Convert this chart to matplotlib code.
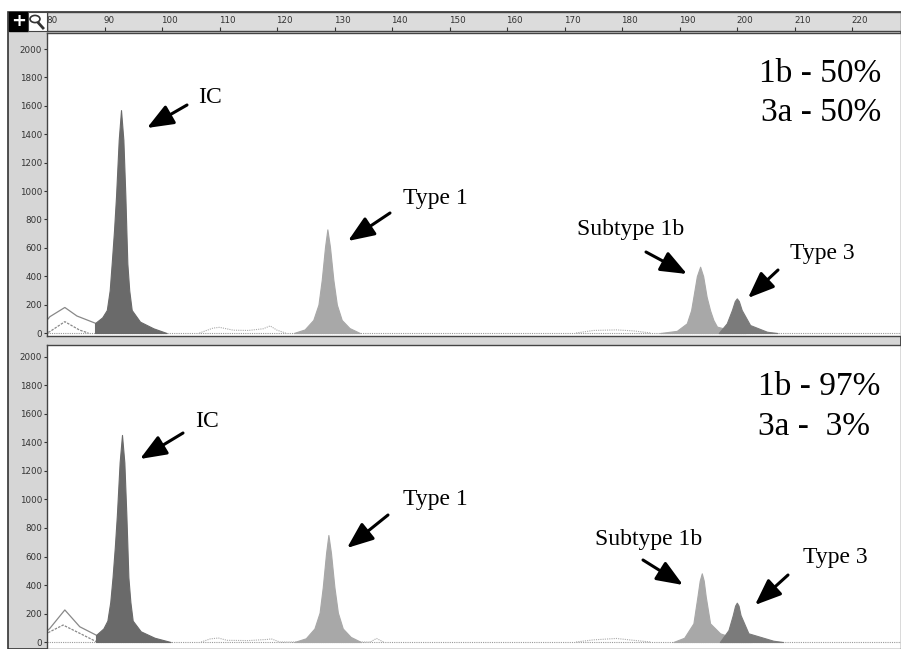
import matplotlib
matplotlib.use("Agg")
import matplotlib.pyplot as plt
from matplotlib.patches import Rectangle, Circle, FancyArrowPatch
from matplotlib.lines import Line2D

W, H = 901, 649

# ====================== data ======================
ruler_ticks = list(range(80, 221, 10))
y_ticks = list(range(0, 2001, 200))

# panel 1 (1b 50% / 3a 50%)
ic1_x = [88.35, 88.35, 89.6, 90.4, 90.9, 91.25, 91.65, 92.0, 92.47, 92.87, 93.28, 93.63, 93.8, 93.97, 94.3, 94.73, 96.17, 98.5, 100.8]
ic1_y = [0, 70, 110, 162, 300, 490, 720, 960, 1360, 1570, 1360, 960, 720, 490, 300, 162, 80, 33, 0]
t1a_x = [122.9, 124.8, 126.3, 127.2, 127.77, 128.35, 128.75, 129.2, 129.8, 130.4, 131.25, 132.6, 134.4]
t1a_y = [0, 25, 92, 200, 373, 608, 730, 608, 373, 200, 92, 35, 0]
s1a_x = [186.6, 189.5, 191.25, 192.0, 192.4, 193.0, 193.57, 194.1, 194.7, 195.3, 195.88, 196.5, 198.8, 201.5]
s1a_y = [0, 15, 68, 160, 255, 400, 467, 400, 255, 160, 91, 45, 21, 0]
t3a_x = [196.8, 198.2, 199.1, 199.6, 199.95, 200.3, 200.8, 202.26, 205.2, 207.0]
t3a_y = [0, 68, 162, 225, 244, 225, 162, 56, 9, 0]
up1_x = [80.2, 80.5, 83.1, 85.2, 88.35]
up1_y = [100, 115, 180, 120, 70]
lo1_x = [80.2, 80.5, 83.1, 85.7, 87.2]
lo1_y = [5, 10, 80, 20, 0]
bump1_x = [106.5, 108.9, 110.0, 112.4, 115, 117.6, 118.8, 120, 121.5]
bump1_y = [0, 35, 40, 20, 18, 30, 50, 20, 0]
far1_x = [172, 175, 179, 182, 185]
far1_y = [0, 18, 22, 15, 0]

# panel 2 (1b 97% / 3a 3%)
ic2_x = [88.52, 88.52, 89.8, 90.5, 91.0, 91.4, 91.8, 92.15, 92.63, 93.04, 93.45, 93.8, 93.98, 94.15, 94.5, 94.9, 96.3, 98.7, 101.5]
ic2_y = [0, 49, 95, 150, 280, 455, 670, 890, 1260, 1453, 1260, 890, 670, 455, 280, 150, 75, 30, 0]
t1b_x = [123.0, 125.0, 126.5, 127.4, 127.95, 128.53, 128.93, 129.38, 129.98, 130.58, 131.43, 132.8, 134.6]
t1b_y = [0, 26, 95, 206, 384, 625, 751, 625, 384, 206, 95, 36, 0]
s1b_x = [188.9, 190.8, 192.4, 193.1, 193.5, 193.86, 194.2, 194.55, 195.3, 197.04, 200.5, 202.5]
s1b_y = [0, 30, 131, 318, 430, 482, 430, 318, 131, 61, 14, 0]
t3b_x = [197.0, 198.5, 199.25, 199.65, 199.95, 200.25, 200.6, 201.97, 206.3, 208.0]
t3b_y = [0, 84, 189, 255, 276, 255, 189, 61, 9, 0]
up2_x = [80.2, 80.5, 83.1, 85.7, 88.52]
up2_y = [85, 96, 225, 107, 49]
lo2_x = [80.2, 80.5, 82.8, 85.7, 88.6]
lo2_y = [65, 72, 119, 61, 2]
bump2_x = [106.8, 108.4, 109.8, 111.3, 115, 118.3, 119.0, 120.5, 136.2, 137.3, 138.5]
bump2_y = [0, 22, 28, 12, 10, 18, 22, 0, 0, 25, 0]
far2_x = [172, 175, 179, 182, 185]
far2_y = [0, 15, 25, 12, 0]

c_ic = "#6a6a6a"
c_t1 = "#a8a8a8"
c_t3 = "#7b7b7b"
serif = "Liberation Serif"


def fx(px):
    return px / W


def fy(py):
    return 1 - py / H


fig = plt.figure(figsize=(W / 100, H / 100), dpi=100, facecolor="white")

# grey frame of the software window (behind the axes)
fig.patches.append(Rectangle((fx(8), 0), 1 - fx(8), fy(12), transform=fig.transFigure,
                             facecolor="#d6d6d6", edgecolor="#333333", lw=1.2, zorder=-10))

# ====================== ruler ======================
axr = fig.add_axes([fx(47), fy(31), 1 - fx(47), (31 - 12) / H])
axr.set_facecolor("#dcdcdc")
axr.set_xlim(80, 228.5)
axr.set_ylim(0, 1)
axr.set_yticks([])
axr.set_xticks(ruler_ticks)
axr.tick_params(axis="x", direction="in", length=3, width=0.8, labelbottom=False, color="#333")
for v in ruler_ticks:
    axr.text(v - 0.1, 0.55, str(v), fontsize=6.3, ha="left", va="center", color="#333")
for s in axr.spines.values():
    s.set_color("#444")
    s.set_linewidth(1)

# + and magnifier icons
fig.patches.append(Rectangle((fx(9), fy(31)), fx(19), (31 - 12) / H, transform=fig.transFigure,
                             facecolor="black", edgecolor="black", zorder=3))
fig.text(fx(18.5), fy(21.5), "+", color="white", fontsize=13, fontweight="bold",
         ha="center", va="center", zorder=4)
fig.patches.append(Rectangle((fx(28), fy(31)), fx(19), (31 - 12) / H, transform=fig.transFigure,
                             facecolor="white", edgecolor="#444", lw=0.8, zorder=3))
fig.patches.append(Circle((fx(35), fy(19)), 0.0055, transform=fig.transFigure,
                          facecolor="white", edgecolor="#333", lw=1.2, zorder=4))
fig.lines.append(Line2D([fx(38.5), fx(43)], [fy(23), fy(28)], transform=fig.transFigure,
                        color="#333", lw=2, zorder=4))

# ====================== panels ======================
panels = [
    dict(top=33, bottom=336, ylim=(-21, 2113),
         fills=[(ic1_x, ic1_y, c_ic), (t1a_x, t1a_y, c_t1), (s1a_x, s1a_y, c_t1), (t3a_x, t3a_y, c_t3)],
         up=(up1_x, up1_y), lo=(lo1_x, lo1_y), bumps=[(bump1_x, bump1_y), (far1_x, far1_y)]),
    dict(top=345, bottom=649, ylim=(-49, 2084),
         fills=[(ic2_x, ic2_y, c_ic), (t1b_x, t1b_y, c_t1), (s1b_x, s1b_y, c_t1), (t3b_x, t3b_y, c_t3)],
         up=(up2_x, up2_y), lo=(lo2_x, lo2_y), bumps=[(bump2_x, bump2_y), (far2_x, far2_y)]),
]

for p in panels:
    ax = fig.add_axes([fx(47), fy(p["bottom"]), 1 - fx(47), (p["bottom"] - p["top"]) / H])
    ax.set_facecolor("white")
    ax.set_xlim(80, 228.5)
    ax.set_ylim(*p["ylim"])
    ax.set_xticks([])
    ax.set_yticks(y_ticks)
    ax.set_yticklabels([str(v) for v in y_ticks], fontsize=6.3, color="#333")
    ax.tick_params(axis="y", direction="out", length=2.5, width=0.8, pad=1, color="#333")
    for s in ax.spines.values():
        s.set_color("#444")
        s.set_linewidth(1)
    ax.axhline(0, color="#999999", lw=0.8, ls=(0, (1, 1)), zorder=1)
    ux, uy = p["up"]
    lx, ly = p["lo"]
    ax.plot(ux, uy, color="#888888", lw=0.9, zorder=2)
    ax.plot(lx, ly, color="#888888", lw=0.9, ls=(0, (2, 1)), zorder=2)
    for bx, by in p["bumps"]:
        ax.plot(bx, by, color="#aaaaaa", lw=0.8, ls=(0, (1, 1)), zorder=2)
    for xs, ys, c in p["fills"]:
        ax.fill_between(xs, ys, 0, color=c, lw=0.8, edgecolor=c, zorder=3)

# ====================== annotations ======================
def label(text, x, y, size):
    fig.text(fx(x), fy(y), text, fontsize=size, family=serif, ha="left", va="baseline")


def arrow(x0, y0, x1, y1):
    fig.add_artist(FancyArrowPatch(
        (fx(x0), fy(y0)), (fx(x1), fy(y1)), transform=fig.transFigure,
        arrowstyle="-|>,head_length=0.8,head_width=0.32", mutation_scale=20,
        color="black", lw=2.2, shrinkA=0, shrinkB=0, zorder=10))


# panel 1
label("IC", 198, 103, 17)
arrow(187, 105, 147, 128)
label("Type 1", 403, 204, 17)
arrow(390, 213, 348, 241)
label("Subtype 1b", 577, 235, 17)
arrow(646, 252, 687, 274)
label("Type 3", 790, 259, 17)
arrow(778, 270, 748, 298)
fig.text(fx(881), fy(82), "1b - 50%", fontsize=24, family=serif, ha="right", va="baseline")
fig.text(fx(881), fy(121), "3a - 50%", fontsize=24, family=serif, ha="right", va="baseline")

# panel 2
label("IC", 195, 427, 17)
arrow(183, 433, 140, 459)
label("Type 1", 403, 505, 17)
arrow(388, 515, 347, 548)
label("Subtype 1b", 595, 545, 17)
arrow(643, 560, 683, 585)
label("Type 3", 803, 563, 17)
arrow(788, 575, 755, 605)
fig.text(fx(758), fy(395), "1b - 97%", fontsize=24, family=serif, ha="left", va="baseline")
fig.text(fx(758), fy(435), "3a -  3%", fontsize=24, family=serif, ha="left", va="baseline")

fig.savefig("out.png", dpi=100, facecolor="white")
